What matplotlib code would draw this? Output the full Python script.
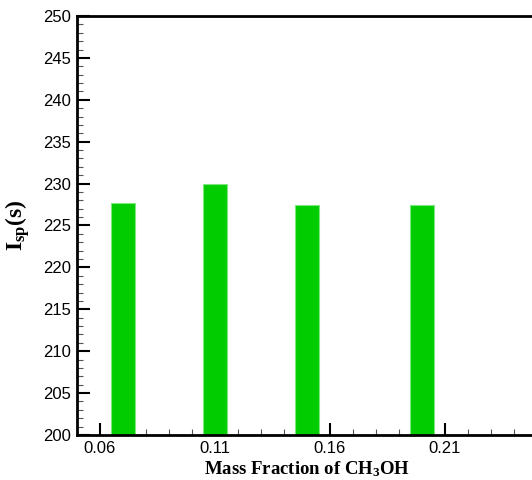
import matplotlib.pyplot as plt
from matplotlib.ticker import MultipleLocator

# data
mass_fraction = [0.07, 0.11, 0.15, 0.20]
isp = [227.7, 230.0, 227.4, 227.45]
bar_width = 0.0105

x_ticks = [0.06, 0.11, 0.16, 0.21]
x_tick_labels = ["0.06", "0.11", "0.16", "0.21"]

plt.rcParams['font.family'] = ['Liberation Sans', 'DejaVu Sans']
plt.rcParams['mathtext.fontset'] = 'custom'
plt.rcParams['mathtext.rm'] = 'Liberation Serif'
plt.rcParams['mathtext.bf'] = 'Liberation Serif:bold'
plt.rcParams['mathtext.it'] = 'Liberation Serif:italic'

fig = plt.figure(figsize=(5.32, 4.8), dpi=100)
# axes runs past the right edge of the picture, like the reference crop
ax = fig.add_axes([77 / 532, 45 / 480, 460 / 532, 419 / 480])

ax.bar(mass_fraction, isp, width=bar_width, bottom=0, color='#00cc00',
       edgecolor='#7ee87e', linewidth=0.8, zorder=2)

ax.set_xlim(0.05, 0.25)
ax.set_ylim(200, 250)
ax.set_xticks(x_ticks)
ax.set_xticklabels(x_tick_labels)
ax.xaxis.set_minor_locator(MultipleLocator(0.01))
ax.yaxis.set_major_locator(MultipleLocator(5))
ax.yaxis.set_minor_locator(MultipleLocator(1))

ax.tick_params(which='major', direction='in', length=9, width=1.5,
               labelsize=12, color='black', pad=4)
ax.tick_params(which='minor', direction='in', length=4.5, width=0.8, color='#555555')
ax.tick_params(axis='y', which='both', right=False)
ax.tick_params(axis='x', which='both', top=False)

for side in ['left', 'bottom', 'top', 'right']:
    ax.spines[side].set_linewidth(2)
    ax.spines[side].set_zorder(3)

ax.set_xlabel('Mass Fraction of CH$_\\mathbf{3}$OH', family='Liberation Serif',
              fontweight='bold', fontsize=13.5, labelpad=3)
ax.set_ylabel(r'$\mathbf{I}_{\mathbf{sp}}$(s)', family='Liberation Serif',
              fontweight='bold', fontsize=17, labelpad=8)

fig.savefig('out.png', dpi=100)
